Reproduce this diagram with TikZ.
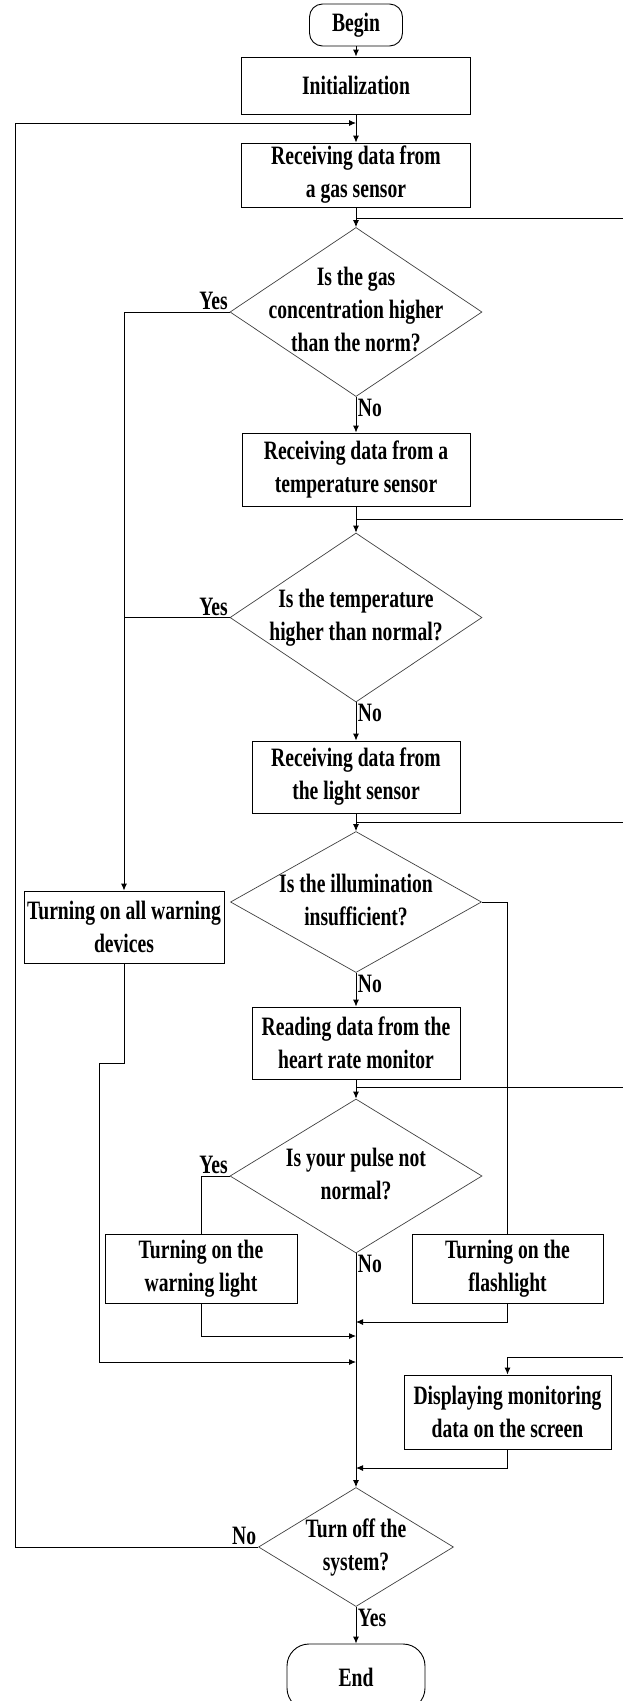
\documentclass[tikz,border=0pt]{standalone}
\usepackage{fontspec}
\setmainfont{Liberation Serif}[FakeStretch=0.74]
\usetikzlibrary{arrows.meta, positioning, shapes.geometric}

\newcommand{\qtext}[1]{\makebox[0pt]{\begin{tabular}{@{}c@{}}#1\end{tabular}}}

\begin{document}
\begin{tikzpicture}[x=1pt, y=-1pt, line width=0.9pt,
    >={Latex[length=7pt,width=6pt]},
    font=\fontsize{26.5}{33}\selectfont\bfseries,
    term/.style={draw, rectangle, rounded corners=13pt, inner sep=0pt},
    box/.style={draw, rectangle, align=center, inner sep=0pt},
    decision/.style={draw=black!75, line width=0.7pt, diamond, inner sep=0pt},
    lbl/.style={inner sep=1.5pt}]
    \useasboundingbox (0,0) rectangle (623,1701);
    \clip (0,0) rectangle (623,1701);

    % Nodes
    \node (begin) [term, minimum width=93pt, minimum height=42pt] at (356,25) {Begin};
    \node (init) [box, below of=begin, node distance=60.5pt, minimum width=229pt, minimum height=57pt] {Initialization};
    \node (gas) [box, below of=init, node distance=89.5pt, minimum width=229pt, minimum height=64pt] {Receiving data from\\a gas sensor};
    \node (d1) [decision, below of=gas, node distance=137pt, minimum width=252pt, minimum height=169pt] {\qtext{Is the gas\\concentration higher\\than the norm?}};
    \node (temp) [box, below of=d1, node distance=157.5pt, minimum width=228pt, minimum height=73pt] {Receiving data from a\\temperature sensor};
    \node (d2) [decision, below of=temp, node distance=148pt, minimum width=252pt, minimum height=169pt] {\qtext{Is the temperature\\higher than normal?}};
    \node (light) [box, below of=d2, node distance=159.5pt, minimum width=208pt, minimum height=72pt] {Receiving data from\\the light sensor};
    \node (d3) [decision, below of=light, node distance=125pt, minimum width=251pt, minimum height=141pt] {\qtext{Is the illumination\\insufficient?}};
    \node (heart) [box, below of=d3, node distance=141pt, minimum width=208pt, minimum height=72pt] {Reading data from the\\heart rate monitor};
    \node (d4) [decision, below of=heart, node distance=133pt, minimum width=252pt, minimum height=154pt] {\qtext{Is your pulse not\\normal?}};
    \node (d5) [decision, below of=d4, node distance=371pt, minimum width=195pt, minimum height=119pt] {\qtext{Turn off the\\system?}};
    \node (end) [term, rounded corners=22pt, below of=d5, node distance=130pt, minimum width=138pt, minimum height=66pt] {End};

    \node (allwarn) [box, minimum width=200pt, minimum height=72pt] at (124,927) {Turning on all warning\\devices};
    \node (wlight) [box, minimum width=192pt, minimum height=69pt] at (201,1268.5) {Turning on the\\warning light};
    \node (flash) [box, minimum width=191pt, minimum height=69pt] at (507.5,1268.5) {Turning on the\\flashlight};
    \node (display) [box, minimum width=207pt, minimum height=74pt] at (507.5,1412) {Displaying monitoring\\data on the screen};

    % Labels
    \node (y1) [lbl, anchor=south east] at (d1.west) {Yes};
    \node (n1) [lbl, anchor=north west] at (d1.south) {No};
    \node (y2) [lbl, anchor=south east] at (d2.west) {Yes};
    \node (n2) [lbl, anchor=north west] at (d2.south) {No};
    \node (n3) [lbl, anchor=north west] at (d3.south) {No};
    \node (y4) [lbl, anchor=south east] at (d4.west) {Yes};
    \node (n4) [lbl, anchor=north west] at (d4.south) {No};
    \node (n5) [lbl, anchor=south east] at (d5.west) {No};
    \node (y5) [lbl, anchor=north west] at (d5.south) {Yes};

    % Points
    \coordinate (top) at (356,123);
    \coordinate (loopx) at (15,123);
    \coordinate (e1) at (623,218);
    \coordinate (e2) at (623,519);
    \coordinate (e3) at (623,822);
    \coordinate (e4) at (623,1087);
    \coordinate (e5) at (623,1357);
    \coordinate (jog) at (99,1063);
    \coordinate (j1) at (356,1322);
    \coordinate (j2) at (356,1336);
    \coordinate (j3) at (356,1362);
    \coordinate (j4) at (356,1468);

    % Connections
    \draw[->] (begin) -- (init);
    \draw[->] (init) -- (gas);
    \draw[->] (gas) -- (d1);
    \draw[->] (d1) -- (temp);
    \draw[->] (temp) -- (d2);
    \draw[->] (d2) -- (light);
    \draw[->] (light) -- (d3);
    \draw[->] (d3) -- (heart);
    \draw[->] (heart) -- (d4);
    \draw[->] (d4) -- (d5);
    \draw[->] (d5) -- (end);

    \draw (gas.south |- e1) -- (e1);
    \draw (temp.south |- e2) -- (e2);
    \draw (light.south |- e3) -- (e3);
    \draw (heart.south |- e4) -- (e4);

    \draw[->] (d1.west) -| (allwarn.north);
    \draw (d2.west) -- (d2.west -| allwarn.north);
    \draw (d3.east) -| (flash.north);
    \draw (d4.west) -| (wlight.north);

    \draw[->] (allwarn.south) |- (jog) |- (j3);
    \draw[->] (wlight.south) |- (j2);
    \draw[->] (flash.south) |- (j1);
    \draw[->] (e5) -| (display.north);
    \draw[->] (display.south) |- (j4);
    \draw[->] (d5.west) -| (loopx) -- (top);
\end{tikzpicture}
\end{document}
